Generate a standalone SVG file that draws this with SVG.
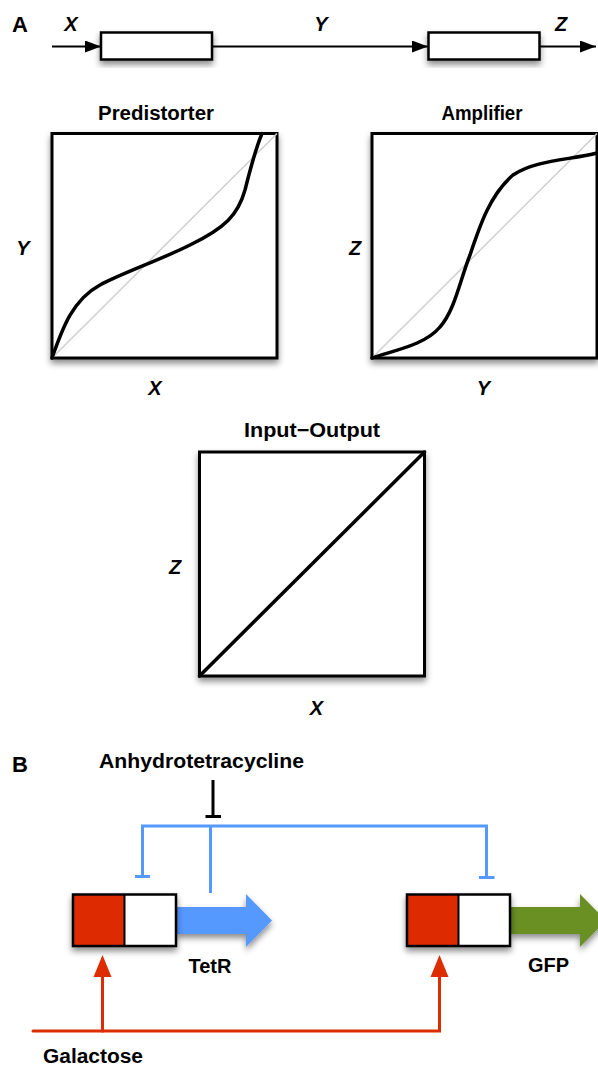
<svg xmlns="http://www.w3.org/2000/svg" width="598" height="1068" viewBox="0 0 598 1068">
<style>
text{font-family:"Liberation Sans",Arial,sans-serif;font-weight:bold;fill:#000;font-size:20px}
.t{text-anchor:middle}
.v{font-style:italic;text-anchor:middle}
.lbl{font-size:22px}
.box{fill:#fff;stroke:#000;stroke-width:2.5}
.plot{fill:#fff;stroke:#000;stroke-width:3}
.diag{stroke:#cfcfcf;stroke-width:1.5;fill:none}
.curve{stroke:#000;stroke-width:3.5;fill:none;stroke-linecap:round}
.wire{stroke:#000;stroke-width:2;fill:none}
.blue{stroke:#5599ff;stroke-width:3;fill:none}
.red{stroke:#dd2c00;stroke-width:3;fill:none;stroke-linecap:round}
</style>
<defs>
<filter id="sh" x="-20%" y="-20%" width="140%" height="150%">
<feDropShadow dx="0" dy="4" stdDeviation="3" flood-color="#000" flood-opacity="0.45"/>
</filter>
<marker id="ah" markerWidth="16" markerHeight="12" refX="16" refY="6" orient="auto" markerUnits="userSpaceOnUse">
<path d="M0,0 L16,6 L0,12 Z" fill="#000"/>
</marker>
</defs>

<!-- Panel A -->
<text class="lbl" x="12" y="32">A</text>
<text class="v" x="71" y="31">X</text>
<text class="v" x="321" y="31">Y</text>
<text class="v" x="561" y="31">Z</text>

<g id="connectors">
<line class="wire" x1="52" y1="46.5" x2="101" y2="46.5" marker-end="url(#ah)"/>
<line class="wire" x1="212" y1="46.5" x2="428" y2="46.5" marker-end="url(#ah)"/>
<line class="wire" x1="540" y1="46.5" x2="596" y2="46.5" marker-end="url(#ah)"/>
</g>

<g id="block1"><rect class="box" x="101" y="32.5" width="111" height="27" filter="url(#sh)"/></g>
<g id="block2"><rect class="box" x="428.5" y="32.5" width="111" height="27" filter="url(#sh)"/></g>

<g id="predistorter">
<text class="t" x="156" y="120" textLength="116" lengthAdjust="spacingAndGlyphs">Predistorter</text>
<rect class="plot" x="52" y="133.5" width="225" height="224.5" filter="url(#sh)"/>
<line class="diag" x1="52" y1="358" x2="277" y2="133.5"/>
<path class="curve" d="M52,358 C62,330 72,300 100,285 C120,274 160,260 190,245 C225,228 238,215 245,190 C250,170 255,150 262,133.5"/>
<text class="v" x="23" y="255">Y</text>
<text class="v" x="155" y="395">X</text>
</g>

<g id="amplifier">
<text class="t" x="482" y="120" textLength="81" lengthAdjust="spacingAndGlyphs">Amplifier</text>
<rect class="plot" x="372" y="133.5" width="225" height="224.5" filter="url(#sh)"/>
<line class="diag" x1="372" y1="358" x2="597" y2="133.5"/>
<path class="curve" d="M372,358 C395,350 425,345 440,327 C455,310 460,280 470,255 C480,225 490,195 513,175 C535,160 570,160 597,153"/>
<text class="v" x="355" y="255">Z</text>
<text class="v" x="483.5" y="395">Y</text>
</g>

<g id="inputoutput">
<text class="t" x="312" y="437" textLength="136" lengthAdjust="spacingAndGlyphs">Input−Output</text>
<rect class="plot" x="199.5" y="452" width="225" height="224" filter="url(#sh)"/>
<line class="curve" x1="199.5" y1="676" x2="424.5" y2="452"/>
<text class="v" x="175" y="574">Z</text>
<text class="v" x="316.5" y="715">X</text>
</g>

<!-- Panel B -->
<text class="lbl" x="12" y="772">B</text>
<text class="t" x="201.5" y="768" textLength="205" lengthAdjust="spacingAndGlyphs">Anhydrotetracycline</text>

<g id="connectors-b">
<path d="M213,780 V816 M205.5,816.5 H221" stroke="#000" stroke-width="3" fill="none"/>
<path class="blue" d="M142.5,876.5 V826 H486.5 V877"/>
<path class="blue" d="M210.5,826 V893"/>
<path class="blue" d="M135,876.5 H150 M479,877.5 H494.5"/>
<path class="red" d="M33,1031 H439.5 V975"/>
<path class="red" d="M102.5,1031 V975"/>
<path d="M102.5,955 L111.5,977 L93.5,977 Z M439.5,955 L448.5,977 L430.5,977 Z" fill="#dd2c00"/>
</g>

<g id="tetr">
<path d="M176,907 H246 V894 L272,920.5 L246,947 V934 H176 Z" fill="#5599ff" filter="url(#sh)"/>
<g filter="url(#sh)">
<rect x="73" y="894.5" width="51.5" height="51.5" fill="#dd2c00"/>
<rect x="124.5" y="894.5" width="51.5" height="51.5" fill="#fff"/>
<rect x="73" y="894.5" width="103" height="51.5" fill="none" stroke="#000" stroke-width="2.5"/>
<line x1="124.5" y1="894.5" x2="124.5" y2="946" stroke="#000" stroke-width="2"/>
</g>
<text class="t" x="210" y="973">TetR</text>
</g>

<g id="gfp">
<path d="M510,907 H580 V894 L606,920.5 L580,947 V934 H510 Z" fill="#6a8f24" filter="url(#sh)"/>
<g filter="url(#sh)">
<rect x="407" y="894.5" width="51.5" height="51.5" fill="#dd2c00"/>
<rect x="458.5" y="894.5" width="51.5" height="51.5" fill="#fff"/>
<rect x="407" y="894.5" width="103" height="51.5" fill="none" stroke="#000" stroke-width="2.5"/>
<line x1="458.5" y1="894.5" x2="458.5" y2="946" stroke="#000" stroke-width="2"/>
</g>
<text class="t" x="548.5" y="972">GFP</text>
</g>

<text x="43" y="1063" textLength="100" lengthAdjust="spacingAndGlyphs">Galactose</text>
</svg>
